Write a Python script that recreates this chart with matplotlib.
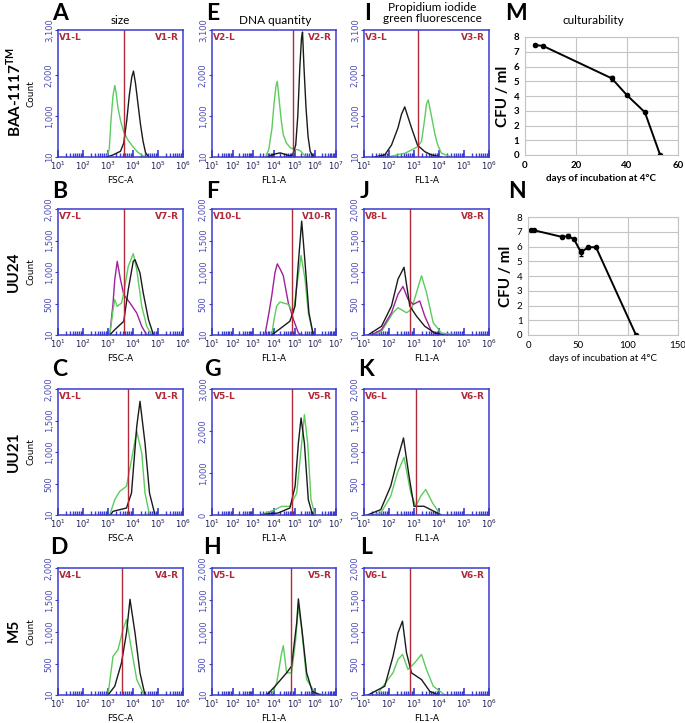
import numpy as np
import matplotlib.pyplot as plt
from matplotlib.ticker import FixedLocator, LogFormatterSciNotation, NullFormatter

# ---- histogram traces: (log10 intensity, count) ----
# row 1: BAA-1117
a_green = [(2.95, 10), (3.05, 200), (3.12, 900), (3.2, 1500), (3.27, 1750), (3.32, 1600), (3.4, 1200),
           (3.5, 900), (3.63, 620), (3.8, 420), (4.0, 260), (4.2, 120), (4.4, 40), (4.55, 10)]
a_black = [(2.95, 10), (3.2, 60), (3.5, 150), (3.63, 350), (3.75, 900), (3.85, 1500), (3.95, 1950),
           (4.02, 2100), (4.1, 1800), (4.2, 1300), (4.3, 800), (4.4, 400), (4.5, 120), (4.62, 10)]
e_green = [(3.6, 10), (3.75, 200), (3.9, 700), (4.0, 1300), (4.1, 1750), (4.16, 1850), (4.25, 1400),
           (4.35, 900), (4.45, 550), (4.6, 350), (4.8, 230), (5.0, 200), (5.2, 180), (5.3, 150),
           (5.45, 60), (5.6, 10)]
e_black = [(3.7, 10), (3.9, 60), (4.1, 90), (4.3, 110), (4.5, 80), (4.75, 40), (4.9, 60), (5.05, 300),
           (5.15, 1000), (5.25, 2200), (5.33, 2900), (5.38, 3050), (5.45, 2200), (5.55, 1200),
           (5.65, 500), (5.75, 150), (5.9, 10)]
i_black = [(1.4, 10), (1.83, 60), (2.1, 300), (2.36, 720), (2.5, 1050), (2.63, 1230), (2.75, 1000),
           (2.9, 720), (3.14, 300), (3.43, 140), (3.7, 60), (4.1, 10)]
i_green = [(1.96, 10), (2.3, 60), (2.63, 100), (2.9, 180), (3.14, 260), (3.3, 390), (3.42, 900),
           (3.5, 1300), (3.57, 1400), (3.7, 1000), (3.84, 555), (3.95, 300), (4.1, 100), (4.5, 10)]

# row 2: UU24
b_magenta = [(3.07, 10), (3.2, 500), (3.27, 884), (3.37, 1173), (3.5, 884), (3.63, 647), (3.88, 515),
             (4.15, 357), (4.35, 147), (4.55, 10)]
b_green = [(3.07, 10), (3.2, 400), (3.27, 568), (3.37, 463), (3.54, 515), (3.63, 673), (3.81, 1094),
           (4.01, 1294), (4.15, 1042), (4.35, 463), (4.55, 147), (4.75, 10)]
b_black = [(3.07, 10), (3.27, 94), (3.63, 226), (3.81, 726), (4.01, 1173), (4.08, 1200), (4.28, 989),
           (4.41, 673), (4.62, 252), (4.82, 10)]
f_magenta = [(3.56, 10), (3.75, 350), (3.89, 627), (4.05, 1000), (4.16, 1133), (4.3, 1050), (4.45, 946),
             (4.69, 521), (4.94, 255), (5.18, 42), (5.34, 10)]
f_green = [(3.89, 10), (4.0, 250), (4.13, 468), (4.29, 531), (4.69, 494), (4.94, 361), (5.15, 893),
           (5.31, 1266), (5.5, 893), (5.66, 361), (5.9, 10)]
f_black = [(3.89, 10), (4.45, 148), (4.77, 228), (5.02, 468), (5.18, 1159), (5.34, 1808), (5.5, 1159),
           (5.69, 361), (5.9, 10)]
j_black = [(1.16, 10), (1.7, 148), (2.1, 468), (2.36, 893), (2.6, 1079), (2.83, 468), (3.1, 308),
           (3.43, 148), (3.83, 42), (4.24, 10)]
j_magenta = [(1.3, 10), (1.7, 95), (2.1, 361), (2.36, 654), (2.56, 776), (2.76, 574), (2.97, 494),
             (3.23, 547), (3.43, 308), (3.7, 68), (4.1, 10)]
j_green = [(1.4, 10), (1.7, 68), (2.16, 361), (2.36, 441), (2.7, 361), (2.9, 414), (3.1, 680),
           (3.3, 946), (3.5, 680), (3.77, 201), (4.1, 42), (4.5, 25), (4.77, 10)]

# row 3: UU21
c_green = [(3.07, 10), (3.27, 252), (3.47, 384), (3.74, 463), (3.94, 884), (4.15, 1331), (4.35, 989),
           (4.48, 357), (4.66, 10)]
c_black = [(3.1, 10), (3.2, 68), (3.74, 120), (3.94, 357), (4.15, 1410), (4.28, 1805), (4.48, 1147),
           (4.66, 357), (4.88, 10)]
g_black = [(3.4, 10), (4.2, 48), (4.77, 167), (5.02, 683), (5.18, 1714), (5.31, 2310), (5.47, 1714),
           (5.66, 365), (5.86, 10)]
g_green = [(3.4, 10), (4.05, 127), (4.37, 206), (4.77, 206), (5.1, 524), (5.34, 1714), (5.47, 2389),
           (5.63, 1714), (5.79, 365), (5.98, 10)]
k_black = [(1.13, 10), (1.67, 95), (2.07, 468), (2.34, 893), (2.58, 1226), (2.8, 627), (3.0, 148),
           (3.4, 148), (3.8, 68), (4.07, 10)]
k_green = [(1.3, 10), (1.67, 40), (2.07, 308), (2.34, 680), (2.6, 920), (2.87, 361), (3.07, 148),
           (3.27, 308), (3.47, 414), (3.74, 201), (4.07, 10)]

# row 4: M5
d_green = [(3.0, 10), (3.2, 615), (3.4, 720), (3.6, 1036), (3.74, 1194), (3.94, 720), (4.15, 252),
           (4.44, 10)]
d_black = [(3.0, 10), (3.27, 147), (3.54, 515), (3.74, 984), (3.88, 1510), (4.08, 984), (4.28, 357),
           (4.48, 10)]
h_black = [(3.65, 10), (4.05, 147), (4.61, 357), (4.85, 462), (5.1, 1146), (5.18, 1515), (5.37, 984),
           (5.58, 357), (5.85, 68), (6.23, 10)]
h_green = [(3.89, 10), (4.13, 199), (4.37, 672), (4.45, 783), (4.61, 357), (4.85, 357), (5.05, 878),
           (5.18, 1404), (5.34, 1036), (5.58, 252), (6.0, 40), (6.47, 10)]
l_black = [(1.16, 10), (1.83, 147), (2.16, 615), (2.36, 984), (2.54, 1167), (2.7, 672), (2.9, 357),
           (3.3, 252), (3.63, 68), (3.97, 10)]
l_green = [(1.5, 10), (2.16, 357), (2.36, 567), (2.54, 646), (2.76, 410), (3.03, 515), (3.3, 646),
           (3.5, 410), (3.77, 147), (4.24, 10)]

# gate positions
gates = {'A': 4.4e3, 'E': 8.0e4, 'I': 1.45e3,
         'B': 4.4e3, 'F': 7.5e4, 'J': 7.0e2,
         'C': 6.3e3, 'G': 7.5e4, 'K': 1.2e3,
         'D': 3.5e3, 'H': 6.5e4, 'L': 7.0e2}
gate_names = {'A': 'V1', 'E': 'V2', 'I': 'V3', 'B': 'V7', 'F': 'V10', 'J': 'V8',
              'C': 'V1', 'G': 'V5', 'K': 'V6', 'D': 'V4', 'H': 'V5', 'L': 'V6'}

# culturability
m_days = [4, 7, 34, 40, 47, 53]
m_cfu = [7.45, 7.4, 5.2, 4.05, 2.9, 0]
m_err = [0.05, 0.05, 0.15, 0.08, 0.08, 0]
n_days = [3, 6, 34, 40, 46, 53, 60, 68, 108]
n_cfu = [7.15, 7.1, 6.65, 6.7, 6.5, 5.6, 5.95, 5.95, 0]
n_err = [0.05, 0.05, 0.1, 0.12, 0.05, 0.25, 0.1, 0.05, 0]

row_labels = ['BAA-1117$^{\\mathregular{TM}}$', 'UU24', 'UU21', 'M5']

GREEN = '#5ccc5c'
BLACK = '#1a1a1a'
MAG = '#a0209c'
RED = '#b02a3a'
BLUE = '#3b3bd0'
TICKBLUE = '#4a4ab8'

W, H = 685, 723
fig = plt.figure(figsize=(W / 100, H / 100), dpi=100)


def box(l, t, r, b):
    return [l / W, 1 - b / H, (r - l) / W, (b - t) / H]


def flow_panel(key, rect, xmax, ylim, yticks, curves, xlabel, count=False):
    ax = fig.add_axes(box(*rect))
    for pts, col in curves:
        d = np.array(pts)
        ax.plot(10 ** d[:, 0], d[:, 1], color=col, lw=1.0)
    ax.set_xscale('log')
    ax.set_xlim(10, 10 ** xmax)
    ax.set_ylim(*ylim)
    ax.axvline(gates[key], color=RED, lw=1)
    # only the decades inside the view, so no hidden labels spill over
    ax.xaxis.set_major_locator(FixedLocator([10.0 ** k for k in range(1, xmax + 1)]))
    ax.xaxis.set_major_formatter(LogFormatterSciNotation())
    minors = [m * 10.0 ** k for k in range(1, xmax) for m in range(2, 10)]
    ax.xaxis.set_minor_locator(FixedLocator(minors))
    ax.xaxis.set_minor_formatter(NullFormatter())
    ax.set_yticks(yticks)
    ax.set_yticklabels([f'{v:,}' for v in yticks], rotation=90, va='center')
    for s in ax.spines.values():
        s.set_color(BLUE)
        s.set_linewidth(1.1)
    ax.tick_params(axis='x', which='major', direction='in', length=5, width=1.2, color=BLUE,
                   labelsize=6, labelcolor='#202050', pad=2)
    ax.tick_params(axis='x', which='minor', direction='in', length=3, width=1.0, color=BLUE)
    ax.tick_params(axis='y', direction='out', length=2, color=BLUE, labelsize=6,
                   labelcolor=TICKBLUE, pad=1)
    ax.text(0.01, 0.975, gate_names[key] + '-L', transform=ax.transAxes, ha='left', va='top',
            color=RED, fontsize=6.5, fontweight='bold')
    ax.text(0.97, 0.975, gate_names[key] + '-R', transform=ax.transAxes, ha='right', va='top',
            color=RED, fontsize=6.5, fontweight='bold')
    ax.set_xlabel(xlabel, fontsize=6.5, labelpad=3)
    if count:
        ax.set_ylabel('Count', fontsize=6.5)
        ax.yaxis.set_label_coords(-0.18, 0.5)
    return ax


cols = [(58, 183), (212, 336), (364, 489)]
rows = [(30, 157), (209, 335), (389, 515), (568, 695)]
y31 = (10, 3100)
t31 = [10, 1000, 2000, 3100]
y20 = (10, 2000)
t20 = [10, 500, 1000, 1500, 2000]

r = rows[0]
flow_panel('A', (cols[0][0], r[0], cols[0][1], r[1]), 6, y31, t31, [(a_green, GREEN), (a_black, BLACK)], 'FSC-A', True)
flow_panel('E', (cols[1][0], r[0], cols[1][1], r[1]), 7, y31, t31, [(e_green, GREEN), (e_black, BLACK)], 'FL1-A')
flow_panel('I', (cols[2][0], r[0], cols[2][1], r[1]), 6, y31, t31, [(i_green, GREEN), (i_black, BLACK)], 'FL1-A')
r = rows[1]
flow_panel('B', (cols[0][0], r[0], cols[0][1], r[1]), 6, y20, t20,
           [(b_magenta, MAG), (b_green, GREEN), (b_black, BLACK)], 'FSC-A', True)
flow_panel('F', (cols[1][0], r[0], cols[1][1], r[1]), 7, y20, t20,
           [(f_magenta, MAG), (f_green, GREEN), (f_black, BLACK)], 'FL1-A')
flow_panel('J', (cols[2][0], r[0], cols[2][1], r[1]), 6, y20, t20,
           [(j_green, GREEN), (j_magenta, MAG), (j_black, BLACK)], 'FL1-A')
r = rows[2]
flow_panel('C', (cols[0][0], r[0], cols[0][1], r[1]), 6, y20, t20, [(c_green, GREEN), (c_black, BLACK)], 'FSC-A', True)
flow_panel('G', (cols[1][0], r[0], cols[1][1], r[1]), 7, (0, 3000), [0, 1000, 2000, 3000],
           [(g_green, GREEN), (g_black, BLACK)], 'FL1-A')
flow_panel('K', (cols[2][0], r[0], cols[2][1], r[1]), 6, y20, t20, [(k_green, GREEN), (k_black, BLACK)], 'FL1-A')
r = rows[3]
flow_panel('D', (cols[0][0], r[0], cols[0][1], r[1]), 6, y20, t20, [(d_green, GREEN), (d_black, BLACK)], 'FSC-A', True)
flow_panel('H', (cols[1][0], r[0], cols[1][1], r[1]), 7, y20, t20, [(h_green, GREEN), (h_black, BLACK)], 'FL1-A')
flow_panel('L', (cols[2][0], r[0], cols[2][1], r[1]), 6, y20, t20, [(l_green, GREEN), (l_black, BLACK)], 'FL1-A')


def cfu_panel(rect, days, cfu, err, xmax, xticks, bold):
    ax = fig.add_axes(box(*rect))
    ax.errorbar(days, cfu, yerr=err, color='black', marker='o', ms=3, lw=1.4,
                capsize=1.5, elinewidth=0.8)
    ax.set_xlim(0, xmax)
    ax.set_ylim(0, 8)
    ax.set_xticks(xticks)
    ax.set_yticks(range(9))
    ax.grid(color='#c4c4c4', lw=0.8)
    ax.set_axisbelow(True)
    for s in ax.spines.values():
        s.set_color('#c4c4c4')
    w = 'bold' if bold else 'normal'
    ax.tick_params(length=0, labelsize=7, pad=4)
    for t in ax.get_xticklabels() + ax.get_yticklabels():
        t.set_fontweight(w)
        t.set_family('Lato')
    ax.set_ylabel('CFU / ml', fontsize=11, fontweight='bold', family='Lato', labelpad=3)
    ax.set_xlabel('days of incubation at 4°C', fontsize=7, fontweight=w, family='Lato', labelpad=3)
    return ax


cfu_panel((525, 37, 678, 155), m_days, m_cfu, m_err, 60, [0, 20, 40, 60], True)
cfu_panel((528, 217, 678, 335), n_days, n_cfu, n_err, 150, [0, 50, 100, 150], False)

# panel letters
letters = [('A', 52, 13), ('E', 206, 13), ('I', 364, 13), ('M', 505, 13),
           ('B', 52, 192), ('F', 206, 192), ('J', 360, 192), ('N', 508, 192),
           ('C', 52, 370), ('G', 204, 370), ('K', 358, 370),
           ('D', 50, 548), ('H', 203, 548), ('L', 360, 548)]
for s, x, y in letters:
    fig.text(x / W, 1 - y / H, s, fontsize=16.5, fontweight='bold', family='Lato', ha='left', va='center')

# column titles
fig.text(120 / W, 1 - 20 / H, 'size', fontsize=8.5, family='Lato', ha='center', va='center')
fig.text(275 / W, 1 - 20 / H, 'DNA quantity', fontsize=8.5, family='Lato', ha='center', va='center')
fig.text(432 / W, 1 - 13 / H, 'Propidium iodide\ngreen fluorescence', fontsize=8.5, family='Lato',
         ha='center', va='center', linespacing=1.1)
fig.text(593 / W, 1 - 20 / H, 'culturability', fontsize=8.5, family='Lato', ha='center', va='center')

# row labels
for lab, y in zip(row_labels, [92, 272, 452, 630]):
    fig.text(14 / W, 1 - y / H, lab, fontsize=11, fontweight='bold', family='Lato',
             rotation=90, ha='center', va='center')

fig.savefig('out.png', dpi=100)
